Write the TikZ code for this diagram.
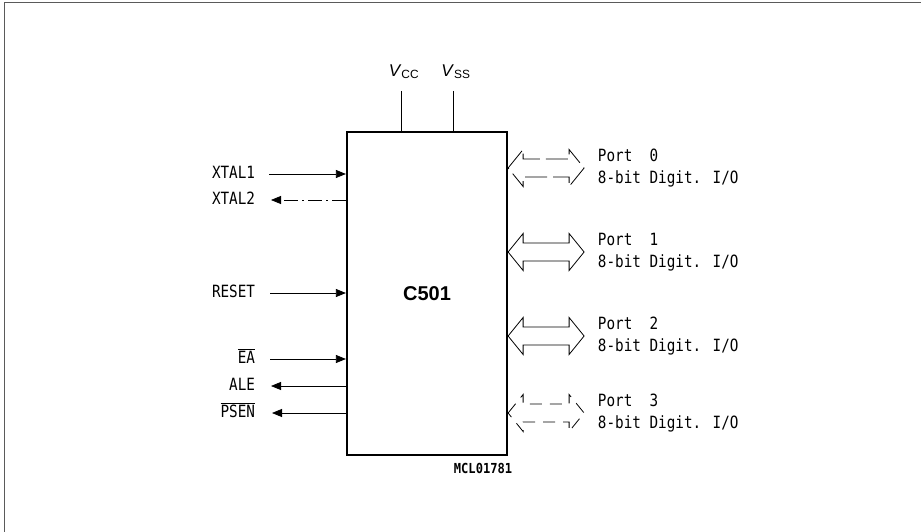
\documentclass[tikz,border=0pt]{standalone}
\usepackage{fontspec}
\setmainfont{Liberation Sans}
\newfontfamily\pinfont{DejaVu Sans Mono}
\usetikzlibrary{arrows.meta}
\newcommand{\tallpin}[1]{\scalebox{1}[1.18]{\begin{tabular}{@{}l@{}}#1\end{tabular}}}

\begin{document}
\begin{tikzpicture}[x=1pt,y=1pt,yscale=-1,xscale=1,
    pin/.style={draw, line width=0.8pt, -{Triangle[length=10pt,width=8pt]}},
    lbl/.style={inner sep=0.75pt, font=\pinfont\fontsize{14.3}{18.2}\selectfont},
    bus/.style={draw, line width=0.8pt, line join=miter},
    buslong/.style={dash pattern=on 22pt off 6pt},
    busshort/.style={dash pattern=on 12pt off 8pt}]
    \useasboundingbox (0,0) rectangle (921,532);

    % Frame
    \draw [color={rgb, 255:red, 90; green, 90; blue, 90}, line width=1pt] (4,532) -- (4,3) -- (921,3);

    % Shape: Chip
    \node (chip) [draw, line width=2.2pt, minimum width=160, minimum height=323, inner sep=0, font=\bfseries\fontsize{20}{22}\selectfont] at (427,293.5) {C501};

    % Supply pins
    \node (vcc) [anchor=south, inner sep=0.75pt, font=\fontsize{17}{18}\selectfont] at (404,80) {\textit{V}\textsubscript{CC}};
    \node (vss) [anchor=south, inner sep=0.75pt, font=\fontsize{17}{18}\selectfont] at (456,80) {\textit{V}\textsubscript{SS}};
    \draw [line width=0.8pt] (401,91) -- (chip.north -| 401,0);
    \draw [line width=0.8pt] (453,91) -- (chip.north -| 453,0);

    % Text Node
    \node (xtal1) [lbl, anchor=east] at (256,174) {\tallpin{XTAL1}};
    % Text Node
    \node (xtal2) [lbl, anchor=east] at (256,200) {\tallpin{XTAL2}};
    % Text Node
    \node (reset) [lbl, anchor=east] at (256,293) {\tallpin{RESET}};
    % Text Node
    \node (ea) [lbl, anchor=east] at (256,359) {\tallpin{$\overline{\hbox{EA}}$}};
    % Text Node
    \node (ale) [lbl, anchor=east] at (256,386) {\tallpin{ALE}};
    % Text Node
    \node (psen) [lbl, anchor=east] at (256,413) {\tallpin{$\overline{\hbox{PSEN}}$}};

    % Inputs
    \draw [pin] ([xshift=13]xtal1.east) -- (chip.west |- xtal1.east);
    \draw [pin] ([xshift=14]reset.east) -- (chip.west |- reset.east);
    \draw [pin] ([xshift=14]ea.east) -- (chip.west |- ea.east);
    % Outputs
    \draw [pin, dash pattern=on 14pt off 4pt on 2pt off 4pt] (chip.west |- xtal2.east) -- ([xshift=15]xtal2.east);
    \draw [pin] (chip.west |- ale.east) -- ([xshift=15]ale.east);
    \draw [pin] (chip.west |- psen.east) -- ([xshift=16]psen.east);

    % Ports
    \foreach \i/\y/\st in {0/168/buslong, 1/252/solid, 2/336/solid, 3/413/busshort} {
        \node (port\i) [lbl, anchor=west] at (597,\y) {\tallpin{Port~~\i\\8-bit Digit. I/O}};
        \draw [bus, \st] (chip.east |- port\i.west) -- ++(15,-18.5) -- ++(0,9.5) -- ++(46,0) -- ++(0,-9.5) -- ++(15,18.5) -- ++(-15,18.5) -- ++(0,-9.5) -- ++(-46,0) -- ++(0,9.5) -- cycle;
    }

    % Text Node
    \node (mcl) [anchor=west, inner sep=0.75pt, font=\pinfont\bfseries\fontsize{11.5}{12}\selectfont] at (453,468) {\scalebox{1.05}[1.2]{MCL01781}};

\end{tikzpicture}
\end{document}
